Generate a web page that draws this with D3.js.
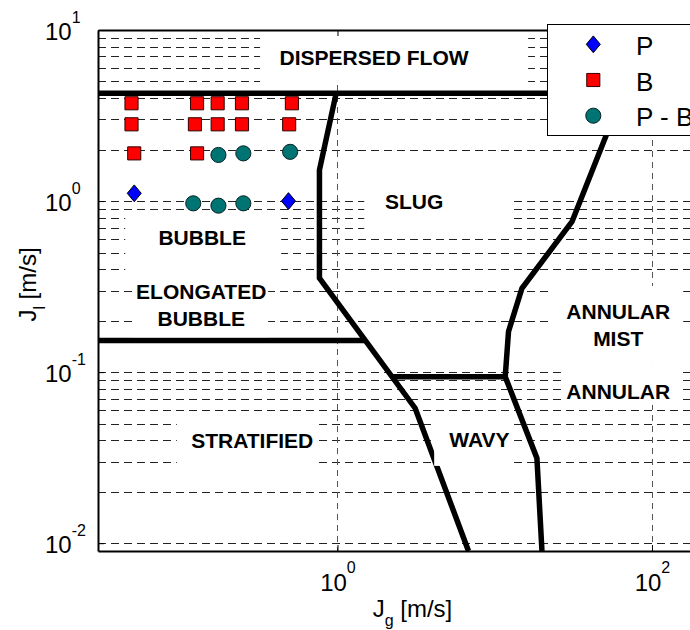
<!DOCTYPE html>
<html>
<head>
<meta charset="utf-8">
<script src="https://cdnjs.cloudflare.com/ajax/libs/d3/7.8.5/d3.min.js"></script>
<style>
body { margin: 0; background: #fff; }
svg { display: block; font-family: "Liberation Sans", Arial, sans-serif; }
</style>
</head>
<body>
<script>
// measured points, Jg and Jl in m/s
var seriesNames = ["P", "B", "P - B"];

var pJg = [0.051, 0.488];
var pJl = [1.11, 1.0];

var bJg = [0.049, 0.128, 0.173, 0.247, 0.513,
           0.049, 0.124, 0.173, 0.247, 0.493,
           0.051, 0.128];
var bJl = [3.73, 3.73, 3.73, 3.73, 3.73,
           2.81, 2.81, 2.81, 2.81, 2.81,
           1.90, 1.90];

var pbJg = [0.175, 0.252, 0.50, 0.121, 0.175, 0.252];
var pbJl = [1.86, 1.90, 1.94, 0.97, 0.94, 0.97];

// flow regime boundaries, [Jg, Jl]
var dispersedBound = [[0.03, 4.27], [300, 4.27]];
var slugBound = [[0.981, 4.27], [0.768, 1.52], [0.768, 0.354], [3.12, 0.0615], [6.81, 0.009]];
var stratBound = [[0.03, 0.153], [1.5, 0.153]];
var wavyBound = [[2.23, 0.094], [11.66, 0.094]];
var annularBound = [[65.3, 4.27], [31.0, 0.758], [14.9, 0.309], [12.24, 0.173],
                    [11.66, 0.094], [18.55, 0.0314], [19.97, 0.009]];

// regime names and where they sit
var regionText = [["DISPERSED FLOW"], ["SLUG"], ["BUBBLE"], ["ELONGATED", "BUBBLE"],
                  ["STRATIFIED"], ["WAVY"], ["ANNULAR", "MIST"], ["ANNULAR"]];
var regionJg = [1.71, 3.07, 0.138, 0.136, 0.287, 7.99, 61, 61];
var regionJl = [6.95, 0.99, 0.613, 0.247, 0.0401, 0.0402, 0.188, 0.0766];
// white patch behind each name: [Jg left, Jg right, Jl top, Jl bottom]
var regionMask = [
  [0.322, 16.3, 10, 4.83],
  [1.48, 12.9, 1.33, 0.651],
  [0.0447, 0.4385, 0.887, 0.395],
  [0.0502, 0.3623, 0.395, 0.16],
  [0.0951, 0.711, 0.0545, 0.0287],
  [4.12, 12.5, 0.0545, 0.0283],
  [22.5, 158, 0.319, 0.1087],
  [27.3, 147, 0.1087, 0.0643]
];

var xTicks = [1, 100];
var yTicks = [10, 1, 0.1, 0.01];

var plotLeft = 98, plotTop = 30, plotW = 629, plotH = 521;

var svg = d3.select("body")
  .append("svg")
  .attr("width", 690)
  .attr("height", 630);

var x = d3.scaleLog().domain([0.03, 300]).range([plotLeft, plotLeft + plotW]);
var y = d3.scaleLog().domain([0.009, 10]).range([plotTop + plotH, plotTop]);

// grid: every minor step on Jl, only the labelled decades on Jg
var yGrid = y.ticks().filter(function(d) { return d >= 0.0099; });
svg.append("g")
  .selectAll("line")
  .data(yGrid)
  .enter()
  .append("line")
  .attr("x1", plotLeft)
  .attr("x2", plotLeft + plotW)
  .attr("y1", function(d) { return Math.round(y(d)) + 0.5; })
  .attr("y2", function(d) { return Math.round(y(d)) + 0.5; })
  .attr("stroke", "#222")
  .attr("stroke-width", 1)
  .attr("stroke-dasharray", "8,5");

svg.append("g")
  .selectAll("line")
  .data(xTicks)
  .enter()
  .append("line")
  .attr("x1", function(d) { return Math.round(x(d)) + 0.5; })
  .attr("x2", function(d) { return Math.round(x(d)) + 0.5; })
  .attr("y1", plotTop)
  .attr("y2", plotTop + plotH)
  .attr("stroke", "#555")
  .attr("stroke-width", 1)
  .attr("stroke-dasharray", "6,5");

// regime boundaries
var line = d3.line()
  .x(function(d) { return x(d[0]); })
  .y(function(d) { return y(d[1]); });

svg.append("g")
  .selectAll("path")
  .data([dispersedBound, slugBound, stratBound, wavyBound, annularBound])
  .enter()
  .append("path")
  .attr("d", line)
  .attr("fill", "none")
  .attr("stroke", "#000")
  .attr("stroke-width", 5.5);

// white patches, then the names
svg.append("g")
  .selectAll("rect")
  .data(regionMask)
  .enter()
  .append("rect")
  .attr("x", function(d) { return x(d[0]); })
  .attr("y", function(d) { return y(d[2]); })
  .attr("width", function(d) { return x(d[1]) - x(d[0]); })
  .attr("height", function(d) { return y(d[3]) - y(d[2]); })
  .attr("fill", "#fff");

var lineGap = 26.5;
var names = svg.append("g")
  .attr("font-size", 21)
  .attr("font-weight", "bold")
  .attr("text-anchor", "middle")
  .selectAll("text")
  .data(regionText)
  .enter()
  .append("text")
  .attr("x", function(d, i) { return x(regionJg[i]); })
  .attr("y", function(d, i) { return y(regionJl[i]) + 7.5 - (d.length - 1) * lineGap / 2; });

names.each(function(d, i) {
  var t = d3.select(this);
  var px = x(regionJg[i]);
  d.forEach(function(s, k) {
    t.append("tspan")
      .attr("x", px)
      .attr("dy", k === 0 ? 0 : lineGap)
      .text(s);
  });
});

// markers
var diamond = {
  draw: function(ctx, size) {
    var a = Math.sqrt(size / 2.4), b = a * 1.2;
    ctx.moveTo(0, -b);
    ctx.lineTo(a, 0);
    ctx.lineTo(0, b);
    ctx.lineTo(-a, 0);
    ctx.closePath();
  }
};

var seriesStyle = [
  {type: diamond, size: 118, fill: "#0000ff", stroke: "#000"},
  {type: d3.symbolSquare, size: 172, fill: "#ff0000", stroke: "#300"},
  {type: d3.symbolCircle, size: 180, fill: "#007373", stroke: "#0a2222"}
];
var seriesData = [d3.zip(pJg, pJl), d3.zip(bJg, bJl), d3.zip(pbJg, pbJl)];

seriesData.forEach(function(pts, s) {
  var st = seriesStyle[s];
  svg.append("g")
    .selectAll("path")
    .data(pts)
    .enter()
    .append("path")
    .attr("transform", function(d) { return "translate(" + x(d[0]) + "," + y(d[1]) + ")"; })
    .attr("d", d3.symbol().type(st.type).size(st.size))
    .attr("fill", st.fill)
    .attr("stroke", st.stroke)
    .attr("stroke-width", 1);
});

// axes
function powLabel(sel, dyUp) {
  sel.each(function(d) {
    var t = d3.select(this);
    var e = Math.round(Math.log10(d));
    t.text("");
    t.append("tspan").text("10");
    t.append("tspan").attr("font-size", 16).attr("dy", -dyUp).text(e);
  });
}

var xAxis = svg.append("g")
  .attr("transform", "translate(0," + (plotTop + plotH) + ")")
  .call(d3.axisBottom(x).tickValues(xTicks).tickSizeInner(-6).tickSizeOuter(0));
xAxis.attr("font-family", null).attr("font-size", 24);
xAxis.select(".domain").attr("stroke-width", 2);
xAxis.selectAll(".tick text")
  .attr("y", 40)
  .attr("dy", 0)
  .attr("fill", "#000")
  .call(powLabel, 18);

var topAxis = svg.append("g")
  .attr("transform", "translate(0," + plotTop + ")")
  .call(d3.axisTop(x).tickValues(xTicks).tickSizeInner(-6).tickSizeOuter(0).tickFormat(""));
topAxis.select(".domain").attr("stroke-width", 2);

var yAxis = svg.append("g")
  .attr("transform", "translate(" + plotLeft + ",0)")
  .call(d3.axisLeft(y).tickValues(yTicks).tickSizeInner(-6).tickSizeOuter(0));
yAxis.attr("font-family", null).attr("font-size", 24);
yAxis.select(".domain").attr("stroke-width", 2);
yAxis.selectAll(".tick text")
  .attr("x", -53)
  .attr("dy", 0)
  .attr("y", 9)
  .attr("text-anchor", "start")
  .attr("fill", "#000")
  .call(powLabel, 17);

// axis titles
var xTitle = svg.append("text")
  .attr("x", plotLeft + plotW / 2)
  .attr("y", 617)
  .attr("text-anchor", "middle")
  .attr("font-size", 24);
xTitle.append("tspan").text("J");
xTitle.append("tspan").attr("font-size", 16).attr("dy", 9).text("g");
xTitle.append("tspan").attr("dy", -9).text(" [m/s]");

var yTitle = svg.append("text")
  .attr("transform", "translate(36," + (plotTop + plotH / 2 - 6) + ") rotate(-90)")
  .attr("text-anchor", "middle")
  .attr("font-size", 24);
yTitle.append("tspan").text("J");
yTitle.append("tspan").attr("font-size", 16).attr("dy", 9).text("l");
yTitle.append("tspan").attr("dy", -9).text(" [m/s]");

// legend
var legend = svg.append("g").attr("transform", "translate(547,24)");
legend.append("rect")
  .attr("x", 0.5)
  .attr("y", 0.5)
  .attr("width", 170)
  .attr("height", 111)
  .attr("fill", "#fff")
  .attr("stroke", "#000")
  .attr("stroke-width", 1);

var items = legend.selectAll("g.item")
  .data(seriesNames)
  .enter()
  .append("g")
  .attr("class", "item")
  .attr("transform", function(d, i) { return "translate(0," + (20.3 + i * 35.7) + ")"; });

items.append("path")
  .attr("transform", "translate(46.3,0)")
  .attr("d", function(d, i) { return d3.symbol().type(seriesStyle[i].type).size(seriesStyle[i].size)(); })
  .attr("fill", function(d, i) { return seriesStyle[i].fill; })
  .attr("stroke", function(d, i) { return seriesStyle[i].stroke; })
  .attr("stroke-width", 1);

items.append("text")
  .attr("x", 89)
  .attr("y", 10.5)
  .attr("font-size", 26)
  .text(function(d) { return d; });
</script>
</body>
</html>
